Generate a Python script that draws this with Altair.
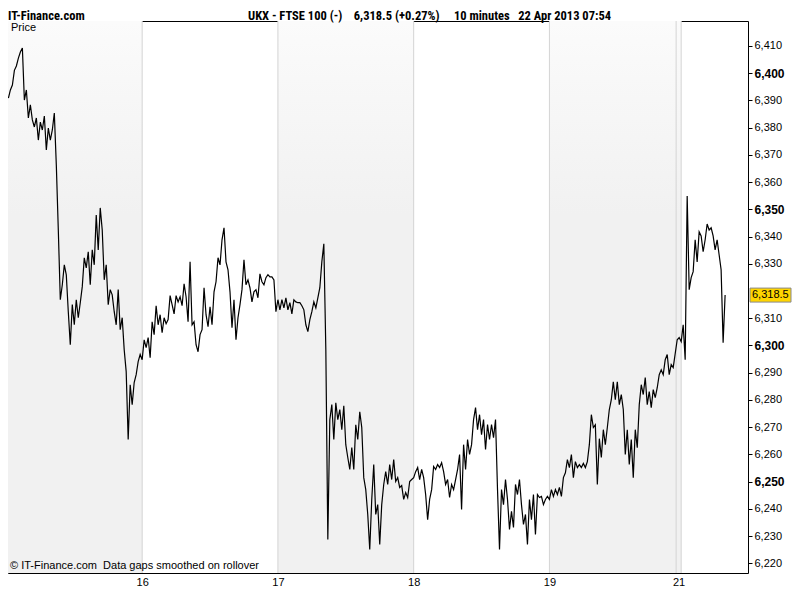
import altair as alt
import pandas as pd

# ---------------- data ----------------
day_labels = ["16", "17", "18", "19", "21"]
tick_pos = [51, 102, 153, 204, 252.5]          # 10-minute bar index of each day's start
grid_pos = [51, 102, 153, 204, 251.6, 253.5]
band_start = [0.6, 102, 204]
band_end = [51, 153, 253.5]
day_starts = [0.75, 51, 102, 153, 204, 252]
step = 0.75                                      # sampling step in bars

day15 = [6390.8, 6393.8, 6395.6, 6401.0, 6402.6, 6405.5, 6407.7, 6409.2, 6390.1, 6393.8,
         6383.5, 6388.3, 6382.8, 6380.2, 6383.5, 6375.4, 6382.0, 6379.1, 6384.2, 6371.8,
         6379.8, 6375.4, 6379.1, 6385.3, 6366.3, 6342.4, 6316.8, 6322.3, 6329.6, 6325.9,
         6312.4, 6300.3, 6315.0, 6307.6, 6316.8, 6310.2, 6315.7, 6321.6, 6332.2, 6328.5,
         6334.4, 6322.3, 6335.1, 6329.6, 6347.9, 6335.1, 6350.5, 6342.4, 6324.1, 6329.6,
         6315.0, 6320.5, 6318.6, 6312.4, 6307.6, 6320.5, 6305.8, 6310.2, 6298.5, 6290.4,
         6265.5, 6285.6, 6278.3, 6286.4, 6289.3, 6294.1, 6296.7]
day16 = [6294.8, 6302.1, 6299.2, 6302.9, 6295.5, 6308.7, 6304.0, 6314.6, 6307.6, 6311.3,
         6304.7, 6310.2, 6308.0, 6309.5, 6318.3, 6315.0, 6311.6, 6318.3, 6316.0, 6317.9,
         6314.6, 6322.6, 6317.9, 6308.7, 6330.7, 6307.6, 6308.7, 6300.3, 6297.7, 6304.0,
         6305.8, 6321.2, 6311.3, 6306.9, 6314.2, 6307.6, 6319.7, 6323.4, 6332.2, 6329.6,
         6338.8, 6343.2, 6330.7, 6327.8, 6319.7, 6306.5, 6316.8, 6302.1, 6310.2, 6315.0,
         6320.5, 6331.5, 6322.3, 6324.1, 6321.2, 6316.0, 6319.7, 6320.5, 6317.5, 6326.3,
         6323.4, 6322.3, 6324.9, 6326.0, 6325.2, 6325.2, 6324.1, 6312.4]
day17 = [6316.8, 6313.1, 6316.8, 6313.8, 6317.5, 6313.1, 6315.7, 6311.6, 6316.8, 6316.0,
         6315.7, 6315.7, 6314.6, 6313.1, 6307.6, 6305.1, 6309.5, 6312.4, 6316.0, 6313.8,
         6317.5, 6321.2, 6330.7, 6337.3, 6298.5, 6228.8, 6272.8, 6278.3, 6265.5, 6279.0,
         6272.8, 6276.5, 6269.1, 6277.9, 6263.6, 6258.9, 6254.5, 6262.5, 6254.5, 6270.9,
         6265.5, 6275.7, 6269.9, 6251.5, 6247.1, 6238.0, 6225.1, 6243.5, 6256.3, 6238.0,
         6241.6, 6227.0, 6241.6, 6249.0, 6253.7, 6249.0, 6256.3, 6250.8, 6258.1, 6250.1,
         6251.5, 6247.9, 6248.6, 6243.5, 6246.0, 6244.2, 6250.1, 6250.8]
day18 = [6251.5, 6253.7, 6255.2, 6250.8, 6254.5, 6251.5, 6245.3, 6236.1, 6243.5, 6247.1,
         6255.6, 6254.5, 6256.3, 6255.2, 6257.0, 6253.7, 6249.0, 6250.8, 6244.2, 6249.0,
         6247.1, 6250.8, 6254.5, 6260.0, 6239.8, 6263.6, 6254.5, 6265.5, 6260.0, 6263.6,
         6272.8, 6277.2, 6269.1, 6274.6, 6267.3, 6272.8, 6261.8, 6271.0, 6265.5, 6271.0,
         6266.2, 6272.8, 6247.1, 6225.1, 6247.1, 6241.6, 6250.8, 6243.5, 6232.5, 6239.1,
         6233.2, 6249.0, 6245.3, 6250.8, 6241.6, 6234.3, 6238.0, 6227.0, 6243.5, 6236.1,
         6245.3, 6230.6, 6245.3, 6244.2, 6244.6, 6241.6, 6243.5, 6244.6]
day19 = [6243.5, 6247.1, 6244.6, 6247.1, 6245.3, 6247.9, 6244.6, 6251.5, 6253.3, 6258.1,
         6255.2, 6260.0, 6251.5, 6257.4, 6255.2, 6256.3, 6255.2, 6256.7, 6255.2, 6257.4,
         6263.6, 6274.6, 6269.9, 6270.9, 6249.0, 6265.8, 6258.9, 6269.1, 6263.6, 6269.9,
         6276.5, 6280.1, 6286.7, 6280.1, 6286.7, 6278.3, 6282.0, 6276.5, 6260.0, 6269.1,
         6256.3, 6265.5, 6251.5, 6269.1, 6262.5, 6278.3, 6285.6, 6282.0, 6288.2, 6278.3,
         6283.1, 6277.2, 6283.8, 6280.9, 6284.5, 6289.3, 6291.1, 6289.3, 6294.8, 6296.7,
         6289.3, 6293.0, 6291.9]
day21 = [6302.1, 6302.9, 6301.4, 6307.6, 6294.8, 6354.9, 6320.5, 6324.9, 6327.1, 6338.8,
         6330.7, 6341.7, 6340.2, 6334.4, 6338.8, 6344.6, 6342.4, 6343.2, 6340.2, 6335.1,
         6338.8, 6333.3, 6327.8, 6301.0, 6318.5]

# 6,320 is covered by the last-price box, as in the original
y_ticks = [v for v in range(6220, 6411, 10) if v != 6320]
last_price = [6318.5]

header_left = "IT-Finance.com"
header_main = ("UKX - FTSE 100 (-)\u00a0\u00a0\u00a0\u00a06,318.5 (+0.27%)\u00a0\u00a0\u00a0\u00a0\u00a0"
               "10 minutes\u00a0\u00a0\u00a022 Apr 2013 07:54")
panel_label = "Price"
footer = "\u00a9 IT-Finance.com\u00a0\u00a0Data gaps smoothed on rollover"

# ---------------- tables ----------------
rows = []
for start, vals in zip(day_starts, [day15, day16, day17, day18, day19, day21]):
    for k, v in enumerate(vals):
        rows.append({"t": start + k * step, "price": v})
df = pd.DataFrame(rows)
band_df = pd.DataFrame({"s": band_start, "e": band_end})
grid_df = pd.DataFrame({"g": grid_pos})
last_df = pd.DataFrame({"p": last_price})

W, H = 740, 552
xscale = alt.Scale(domain=[0.6, 278.6], nice=False, zero=False)
yscale = alt.Scale(domain=[6216.5, 6419.1], nice=False, zero=False)

label_expr = " : ".join(f"datum.value == {p} ? '{l}'" for p, l in zip(tick_pos, day_labels)) + " : ''"
FONT = "Liberation Sans"

x_axis = alt.Axis(values=tick_pos, labelExpr=label_expr, grid=False, ticks=False,
                  domain=False, labelPadding=3, labelFontSize=11, labelFont=FONT,
                  labelColor="black", labelFlush=False, labelOverlap=False, title=None)
y_axis = alt.Axis(orient="right", values=y_ticks, format=",.0f", grid=False,
                  domain=False, tickSize=4, tickColor="black", labelPadding=2,
                  labelFont=FONT, labelColor="black", labelFlush=False,
                  labelOverlap=False, title=None,
                  labelFontSize={"condition": {"test": "datum.value % 50 === 0", "value": 12}, "value": 11},
                  labelFontWeight={"condition": {"test": "datum.value % 50 === 0", "value": "bold"}, "value": "normal"})

grad = alt.Gradient(
    gradient="linear",
    stops=[alt.GradientStop(color="#fbfbfb", offset=0),
           alt.GradientStop(color="#f1f1f1", offset=0.35),
           alt.GradientStop(color="#f1f1f1", offset=1)],
    x1=0, x2=0, y1=0, y2=1,
)

bands = alt.Chart(band_df).mark_rect(color=grad).encode(
    x=alt.X("s:Q", scale=xscale, axis=x_axis),
    x2="e:Q",
    y=alt.value(0),
    y2=alt.value(H),
)

grid = alt.Chart(grid_df).mark_rule(color="#d4d4d4", strokeWidth=1).encode(
    x=alt.X("g:Q", scale=xscale, axis=x_axis)
)

line = alt.Chart(df).mark_line(color="black", strokeWidth=1.2, clip=True).encode(
    x=alt.X("t:Q", scale=xscale, axis=x_axis),
    y=alt.Y("price:Q", scale=yscale, axis=y_axis),
)

box = alt.Chart(last_df).mark_rect(fill="#FFD500", stroke="#8a8a8a", strokeWidth=1,
                                   yOffset=-7, y2Offset=7).encode(
    x=alt.value(742), x2=alt.value(783),
    y=alt.Y("p:Q", scale=yscale, axis=y_axis), y2="p:Q",
)
box_text = alt.Chart(last_df).mark_text(align="left", baseline="middle", font=FONT,
                                        fontSize=11, color="black").encode(
    x=alt.value(744),
    y=alt.Y("p:Q", scale=yscale, axis=y_axis),
    text=alt.Text("p:Q", format=",.1f"),
)

one = pd.DataFrame({"a": [0]})
HFONT = "Liberation Sans Narrow, Arial Narrow, Roboto Condensed, sans-serif"
t_left = alt.Chart(one).mark_text(text=header_left, align="left", baseline="alphabetic",
                                  font=HFONT, fontWeight="bold", fontSize=12.5, color="black").encode(
    x=alt.value(0), y=alt.value(-1.5))
t_main = alt.Chart(one).mark_text(text=header_main, align="left", baseline="alphabetic",
                                  font=HFONT, fontWeight="bold", fontSize=12.5, color="black").encode(
    x=alt.value(240), y=alt.value(-1.5))
t_price = alt.Chart(one).mark_text(text=panel_label, align="left", baseline="alphabetic",
                                   font=FONT, fontSize=11, color="black").encode(
    x=alt.value(3), y=alt.value(10))
t_foot = alt.Chart(one).mark_text(text=footer, align="left", baseline="alphabetic",
                                  font=FONT, fontSize=11, color="black").encode(
    x=alt.value(2), y=alt.value(H - 4))

chart = alt.layer(bands, grid, line, box, box_text, t_left, t_main, t_price, t_foot).properties(
    width=W, height=H,
    autosize=alt.AutoSizeParams(type="none"),
    padding={"left": 0, "top": 13, "right": 44, "bottom": 13},
    background="white",
).configure_view(stroke="black", strokeWidth=1)

chart.save("out.html", embed_options={"renderer": "svg", "actions": False})
